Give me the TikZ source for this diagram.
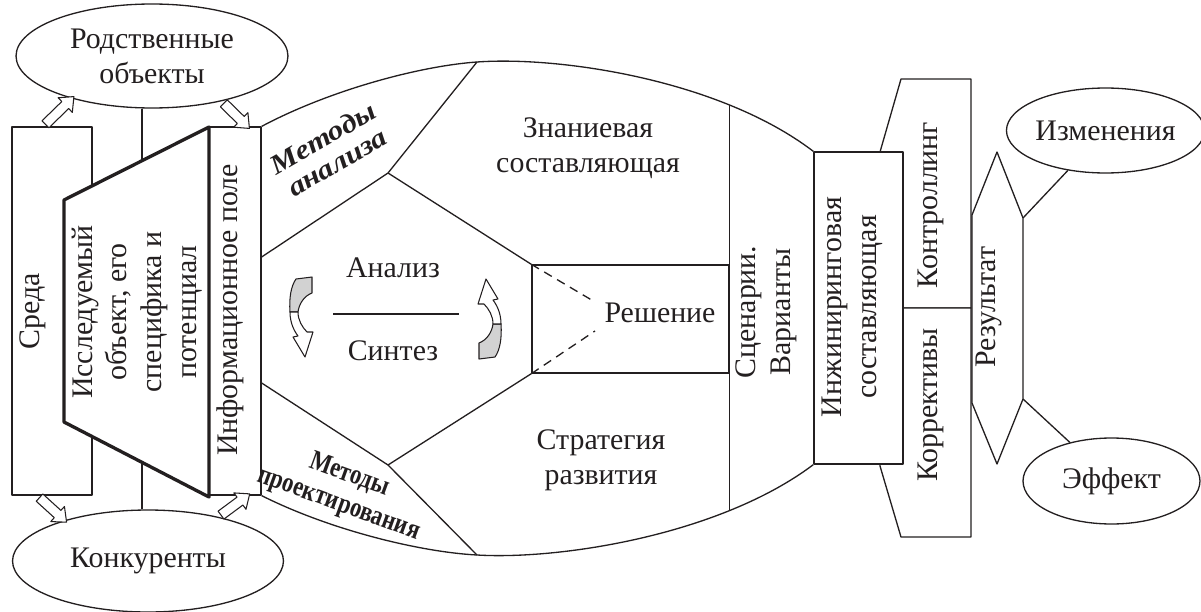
\documentclass[tikz,border=0pt]{standalone}
\usepackage{fontspec}
\setmainfont{Liberation Serif}
\newfontfamily\widebold[FakeStretch=1.15]{Liberation Serif}
\newfontfamily\narrowbold[FakeStretch=0.81]{Liberation Serif}
\usepackage{xcolor}
\definecolor{ink}{HTML}{231F20}
\definecolor{ribbon}{HTML}{D2D2D2}
\usepackage{tikz}
\usetikzlibrary{arrows.meta,positioning,calc,shapes.geometric,shapes.arrows,intersections}

\newcommand{\hollowarrow}[2]{%
  \path let \p1=(#1), \p2=(#2),
    \n1={atan2(\y2-\y1,\x2-\x1)}, \n2={veclen(\x2-\x1,\y2-\y1)} in
    node[hollow, rotate=\n1, minimum height=\n2] at ($(\p1)!0.5!(\p2)$) {};}

\begin{document}
\begin{tikzpicture}[
  x=0.02cm, y=-0.02cm, color=ink, line width=0.75pt, line join=round,
  font=\fontsize{17}{19.8}\selectfont,
  plain/.style={draw=ink, fill=white, inner sep=0pt},
  oval/.style={ellipse, draw=ink, fill=white, inner sep=0pt, align=center},
  hollow/.style={single arrow, draw=ink, line width=0.6pt, fill=white, inner sep=2.5pt,
    single arrow head extend=3pt, single arrow tip angle=80},
  upright/.style={rotate=90, align=center},
  swirl/.pic={
    \draw[fill=ribbon, line width=0.6pt] (-5,-39) -- (11,-41) -- (11,-25)
      .. controls (3,-22) and (-2,-14) .. (-3,-6) -- (-11,-6)
      .. controls (-12,-20) and (-10,-32) .. (-5,-39) -- cycle;
    \draw[fill=white, line width=0.6pt] (-11,-6) .. controls (-11,6) and (-6,14) .. (-3,18)
      -- (-8,19) -- (4,39) -- (12,14) -- (6,14) .. controls (1,9) and (-3,2) .. (-3,-6) -- cycle;
  }
]
  \useasboundingbox (0,0) rectangle (1201,612);

  \node[oval, minimum width=5.44cm, minimum height=2.08cm] (rodstv) at (152,56) {Родственные\\объекты};
  \node[oval, minimum width=5.42cm, minimum height=2.04cm] (konk) at (148,561) {Конкуренты};
  \node[plain, minimum width=1.6cm, minimum height=7.36cm] (sreda) at (52,311) {};
  \coordinate (spine) at (142,0);
  \draw (rodstv.south -| spine) -- (konk.north -| spine);
  \node[plain, minimum width=1.04cm, minimum height=7.36cm] (info) at (235,311) {};
  \draw[line width=1.9pt, fill=white] (64,200) -- (209,127) -- (209,497) -- (64,422) -- cycle;

  \node[upright] (sredatxt) at (33,311) {Среда};
  \node[upright] (objtxt) at (137,312) {Исследуемый\\объект, его\\специфика и\\потенциал};
  \node[upright] (infotxt) at (230,310) {Информационное поле};

  \hollowarrow{$(sreda.north west)+(32,0)$}{rodstv.208}
  \hollowarrow{rodstv.327}{$(info.north west)+(39,0)$}
  \hollowarrow{$(sreda.south west)+(26,0)$}{konk.154}
  \hollowarrow{konk.32}{$(info.south west)+(39,0)$}

  \draw[fill=white] (880,152) -- (901,79) -- (971,79) -- (971,308) -- (880,308) -- cycle;
  \draw[fill=white] (880,466) -- (901,537) -- (971,537) -- (971,308) -- (880,308) -- cycle;
  \node[plain, minimum width=1.78cm, minimum height=6.24cm] (inzh) at (858.5,308) {};

  \coordinate (mtop) at (477,62);
  \coordinate (mbot) at (477,555);
  \coordinate (hubA) at (388,173);
  \coordinate (hubS) at (388,465);
  \draw[name path=toparc] (info.north east) .. controls (330,90) and (420,66) .. (mtop)
    .. controls (560,56) and (720,80) .. (inzh.north west);
  \draw[name path=botarc] (info.south east) .. controls (330,530) and (420,552) .. (mbot)
    .. controls (560,560) and (720,535) .. (inzh.south west);

  \node[plain, minimum width=3.94cm, minimum height=2.16cm] (reshbox) at (630.5,319) {};
  \path[name path=scenline] (reshbox.east |- 0,0) -- (reshbox.east |- 0,612);
  \path[name intersections={of=toparc and scenline, by=sctop}];
  \path[name intersections={of=botarc and scenline, by=scbot}];
  \draw (sctop) -- (scbot);

  \draw (info.east |- 0,257) -- (hubA) -- (mtop);
  \draw (hubA) -- (reshbox.north west);
  \draw (reshbox.south west) -- (hubS) -- (info.east |- 0,383);
  \draw (hubS) -- (mbot);
  \coordinate (dashA) at (595,302);
  \coordinate (dashS) at (595,331);
  \draw[dash pattern=on 5pt off 3.5pt] (reshbox.north west) -- (dashA);
  \draw[dash pattern=on 5pt off 3.5pt] (reshbox.south west) -- (dashS);

  \node (analiz) at (393,268) {Анализ};
  \node (sintez) at (393,351) {Синтез};
  \draw (333,314) -- (459,314);
  \pic at (301,318) {swirl};
  \pic[rotate=180] at (490,318) {swirl};

  \node[rotate=30, align=center, font=\widebold\fontsize{15.5}{16}\selectfont\bfseries\itshape] (manal) at (330,150) {Методы\\анализа};
  \node[rotate=-20, align=center, font=\narrowbold\fontsize{16}{17.5}\selectfont\bfseries] (mproj) at (344,490) {Методы\\проектирования};

  \node[align=center] (znan) at (588,148) {Знаниевая\\составляющая};
  \node (resh) at (660,313) {Решение};
  \node[align=center] (strat) at (601,460) {Стратегия\\развития};
  \node[upright] (scen) at (766,312) {Сценарии.\\Варианты};
  \node[upright] (inzhtxt) at (852,307) {Инжиниринговая\\составляющая};
  \node[upright] (kontr) at (931,205) {Контроллинг};
  \node[upright] (korr) at (931,405) {Коррективы};

  \coordinate (rtop) at (1023,218);
  \coordinate (rbot) at (1023,399);
  \draw[fill=white] (997,152) -- (rtop) -- (rbot) -- (997,464) -- (972,403) -- (972,215) -- cycle;
  \node[upright] (rez) at (989,307) {Результат};
  \node[oval, minimum width=3.62cm, minimum height=1.7cm] (izm) at (1105.5,130.5) {Изменения};
  \node[oval, minimum width=3.54cm, minimum height=1.72cm] (eff) at (1111.5,481) {Эффект};
  \draw (rtop) -- (izm);
  \draw (rbot) -- (eff);
\end{tikzpicture}
\end{document}
